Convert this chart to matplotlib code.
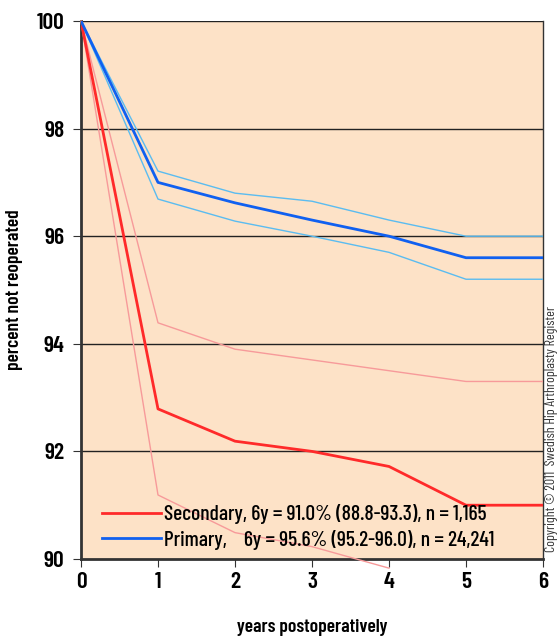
import matplotlib
matplotlib.use('Agg')
import matplotlib.pyplot as plt

years = [0, 1, 2, 3, 4, 5, 6]

prim = [100, 97.0, 96.62, 96.3, 96.0, 95.6, 95.6]
prim_hi = [100, 97.21, 96.8, 96.65, 96.3, 96.0, 96.0]
prim_lo = [100, 96.69, 96.28, 96.0, 95.7, 95.2, 95.2]

sec = [100, 92.79, 92.19, 92.0, 91.72, 91.0, 91.0]
sec_hi = [100, 94.39, 93.9, 93.7, 93.5, 93.3, 93.3]
sec_years_lo = [0, 1, 2, 3, 4]
sec_lo = [100, 91.19, 90.49, 90.23, 89.83]

lab_sec = 'Secondary, 6y = 91.0% (88.8-93.3), n = 1,165'
lab_prim = 'Primary,    6y = 95.6% (95.2-96.0), n = 24,241'

plt.rcParams['font.family'] = ['Barlow Condensed', 'DejaVu Sans']

fig = plt.figure(figsize=(5.6, 6.37), dpi=100)
ax = fig.add_axes([81/560, 1-559/637, 462/560, 538/637])
ax.set_facecolor('#fde2c7')

ax.set_xlim(0, 6)
ax.set_ylim(90, 100)
for y in [92, 94, 96, 98, 100]:
    ax.axhline(y, color='#222222', lw=1, zorder=1)

ax.plot(years, prim_hi, color='#5bbcf0', lw=1, zorder=3)
ax.plot(years, prim_lo, color='#5bbcf0', lw=1, zorder=3)
ax.plot(years, sec_hi, color='#f79a9a', lw=1, zorder=3)
ax.plot(sec_years_lo, sec_lo, color='#f79a9a', lw=1, zorder=3, clip_on=False)
ax.plot(years, sec, color='#ff2a2a', lw=2, zorder=4, label=lab_sec)
ax.plot(years, prim, color='#1060f0', lw=2, zorder=4, label=lab_prim)

for s in ['left', 'bottom']:
    ax.spines[s].set_color('#333333')
    ax.spines[s].set_linewidth(2)
ax.spines['right'].set_color('#333333')
ax.spines['right'].set_linewidth(1)
ax.spines['top'].set_visible(False)

ax.set_xticks(years)
ax.set_yticks([90, 92, 94, 96, 98, 100])
ax.tick_params(axis='both', labelsize=17, length=6, color='#333333')
ax.tick_params(axis='y', pad=6)
for t in ax.get_xticklabels() + ax.get_yticklabels():
    t.set_fontweight('semibold')

fig.text(312/560, 1-627/637, 'years postoperatively', fontsize=14, fontweight='semibold',
         ha='center', va='center')
fig.text(15/560, 1-290/637, 'percent not reoperated', fontsize=14, fontweight='semibold',
         ha='center', va='center', rotation=90)

leg = ax.legend(loc='lower left', bbox_to_anchor=(0.003, -0.019), frameon=False,
                prop={'size': 15.5, 'weight': 'medium'},
                handlelength=2.75, handletextpad=0.15, labelspacing=0.25)

fig.text(552/560, 1-429/637, 'Copyright © 2011  Swedish Hip Arthroplasty Register',
         rotation=90, ha='center', va='center', fontsize=10, color='#333333')

fig.savefig('out.png', dpi=100)
